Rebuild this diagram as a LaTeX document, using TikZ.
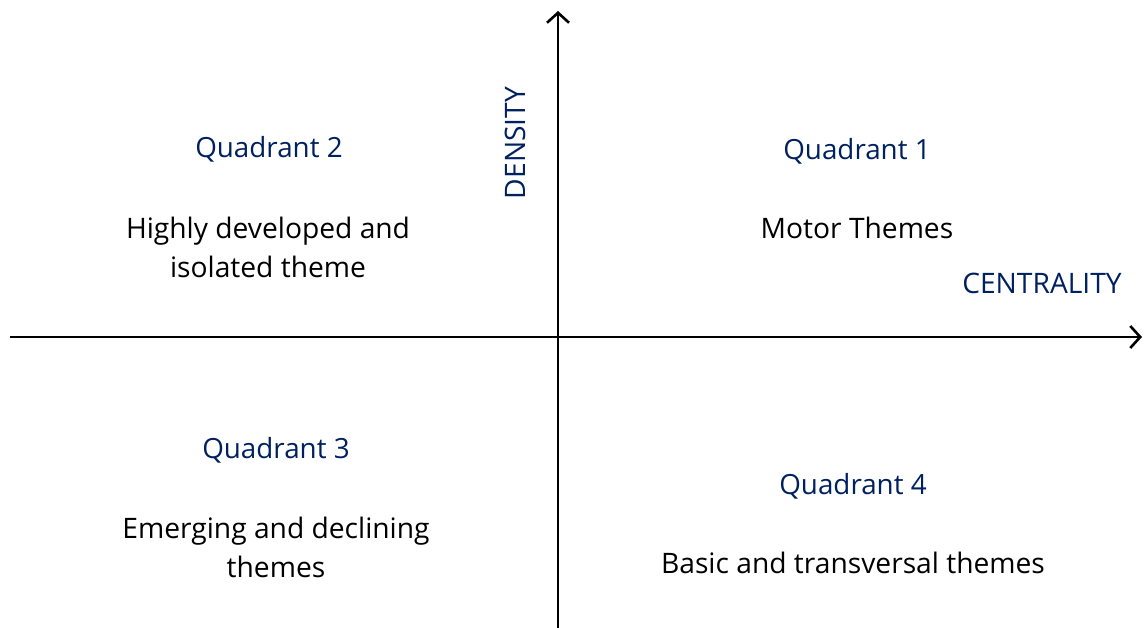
\documentclass[tikz,border=0pt]{standalone}
\usepackage{fontspec}
\setmainfont{Open Sans}
\usepackage{xcolor}
\usetikzlibrary{arrows.meta}
\definecolor{quadblue}{HTML}{002060}
\tikzset{
axe/.style={
 draw=black,
 line width=2.6pt,
 -{Straight Barb[length=10pt,width=22pt,line width=2.6pt]}
 },
titre/.style={
 text=quadblue,
 font=\fontsize{27.8}{32}\selectfont,
 inner sep=0pt
 },
theme/.style={
 text=black,
 font=\fontsize{28.2}{39}\selectfont,
 align=center,
 inner sep=0pt
 },
axelabel/.style={
 text=quadblue,
 font=\fontsize{28.2}{32}\selectfont,
 inner sep=0pt
 }
}
\begin{document}
\begin{tikzpicture}[x=1pt,y=-1pt]
\useasboundingbox (0,0) rectangle (1144,628);
\coordinate (W) at (10,337);
\coordinate (E) at (1142,337);
\coordinate (S) at (558,628);
\coordinate (N) at (558,11);
\draw[axe] (W) -- (E);
\draw[axe] (S) -- (N);
\node[axelabel,rotate=90] (density) at (515,143) {DENSITY};
\node[axelabel] (centrality) at (1042,283) {CENTRALITY};
\node[titre] (q1) at (857,151) {Quadrant 1};
\node[theme] (t1) at (857,228) {Motor Themes};
\node[titre] (q2) at (269,149) {Quadrant 2};
\node[theme] (t2) at (268,247) {Highly developed and\\isolated theme};
\node[titre] (q3) at (276,450) {Quadrant 3};
\node[theme] (t3) at (276,547) {Emerging and declining\\themes};
\node[titre] (q4) at (853,486) {Quadrant 4};
\node[theme] (t4) at (853,563) {Basic and transversal themes};
\end{tikzpicture}
\end{document}
